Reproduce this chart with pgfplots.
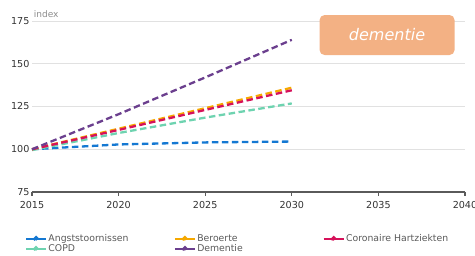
\documentclass[border=0pt]{standalone}
\usepackage{pgfplots}
\pgfplotsset{compat=1.18}
\usepackage{fontspec}
\setmainfont{DejaVu Sans}
\definecolor{cAngst}{RGB}{20,120,210}
\definecolor{cBer}{RGB}{245,168,0}
\definecolor{cCor}{RGB}{214,17,90}
\definecolor{cCOPD}{RGB}{110,211,176}
\definecolor{cDem}{RGB}{107,63,142}
\definecolor{cBox}{RGB}{243,177,132}
\definecolor{cGrid}{RGB}{225,225,225}
\definecolor{cAxis}{RGB}{90,90,90}
\definecolor{cTick}{RGB}{50,50,50}
\begin{document}
\begin{tikzpicture}
\useasboundingbox (-32pt,-63pt) rectangle (443pt,192pt);
\begin{axis}[
  at={(0,0)}, anchor=origin,
  scale only axis, width=433pt, height=171pt,
  xmin=2015, xmax=2040, ymin=75, ymax=175,
  xtick={2015,2020,...,2040}, ytick={75,100,125,150,175},
  xticklabel style={/pgf/number format/1000 sep={}, font=\fontsize{9.6}{11}\selectfont, text=cTick, yshift=-6pt},
  yticklabel style={font=\fontsize{9.6}{11}\selectfont, text=cTick, xshift=1pt},
  /pgf/number format/assume math mode=true,
  axis line style={draw=none},
  xtick pos=bottom, ytick pos=left,
  ytick style={draw=none},
  major tick length=0pt,
  ymajorgrids, grid style={cGrid, line width=0.8pt},
  clip=false,
  legend columns=3,
  legend style={at={(-10pt,-39pt)}, anchor=north west, draw=none, fill=none,
    font=\fontsize{9.3}{10}\selectfont, text=black!65,
    row sep=-1.5pt,
    nodes={text width=124pt, inner sep=1.5pt, align=left}},
  legend cell align=left,
  legend image code/.code={\draw[#1, solid, line width=1.8pt] (0pt,0pt)--(20pt,0pt); \fill[#1] (10pt,0pt) circle (1.8pt);},
]
\addlegendimage{cAngst}\addlegendentry{Angststoornissen}
\addlegendimage{cBer}\addlegendentry{Beroerte}
\addlegendimage{cCor}\addlegendentry{Coronaire Hartziekten}
\addlegendimage{cCOPD}\addlegendentry{COPD}
\addlegendimage{cDem}\addlegendentry{Dementie}
\draw[cAxis, line width=1.2pt] (rel axis cs:0,0) -- (rel axis cs:1,0);
\foreach \t in {2015,2020,...,2040} {
  \edef\temp{\noexpand\draw[cAxis, line width=1.1pt] (axis cs:\t,75) -- ++(0pt,-4pt);}
  \temp
}
\pgfplotsset{every axis plot/.append style={line width=2.3pt, dash pattern=on 6.5pt off 3.5pt, mark=none, forget plot}}
\addplot[cAngst] coordinates {(2015,100) (2020,102.8) (2025,104) (2030,104.5)};
\addplot[cCOPD] coordinates {(2015,99.5) (2020,109.5) (2025,118.5) (2030,126.8)};
\addplot[cBer] coordinates {(2015,100) (2020,112) (2025,124) (2030,136)};
\addplot[cCor] coordinates {(2015,100) (2020,111.3) (2025,123) (2030,134.5)};
\addplot[cDem] coordinates {(2015,100) (2020,120.5) (2025,142) (2030,164)};
\node[anchor=south west, text=black!45, font=\fontsize{9}{10}\selectfont, inner sep=0pt] at (axis cs:2015.1,177) {index};
\node[fill=cBox, rounded corners=5pt, minimum width=135pt, minimum height=40pt, text=white, font=\fontsize{16}{18}\selectfont\itshape] at (axis cs:2035.5,166.8) {dementie};
\end{axis}
\end{tikzpicture}
\end{document}
